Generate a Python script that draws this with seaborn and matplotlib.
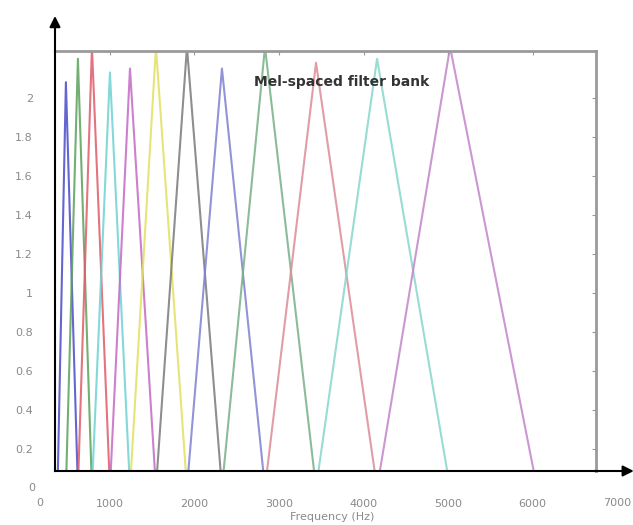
import numpy as np
import pandas as pd
import seaborn as sns
import matplotlib
matplotlib.use('Agg')
import matplotlib.pyplot as plt

# filter edge / centre frequencies (Hz)
edges = [380, 479, 621, 787, 1000, 1237, 1544, 1911, 2325, 2834, 3438, 4160, 5024, 6053]
# peak height of each triangular filter
peaks = [2.08, 2.20, 2.26, 2.13, 2.15, 2.26, 2.26, 2.15, 2.26, 2.18, 2.20, 2.26]
colors = ['#4a4ac8', '#5aa05a', '#e05a6a', '#6ed2d2', '#c46ac4', '#e2e060', '#7a7a7a',
          '#8080d0', '#78b088', '#dc8c98', '#86d6cc', '#c484cc']
xticks = [1000, 2000, 3000, 4000, 5000, 6000]
yticks = [0.2, 0.4, 0.6, 0.8, 1, 1.2, 1.4, 1.6, 1.8, 2]

rows = []
for i, p in enumerate(peaks):
    for f, g in zip(edges[i:i + 3], [0, p, 0]):
        rows.append({'filter': i, 'freq': f, 'gain': g})
df = pd.DataFrame(rows)

sns.set_style('white')
plt.rcParams['font.family'] = ['DejaVu Sans']

fig = plt.figure(figsize=(6.33, 5.25), dpi=100)
ax = fig.add_axes([55 / 633, 54 / 525, 541 / 633, 420 / 525])

sns.lineplot(data=df, x='freq', y='gain', hue='filter', palette=colors,
             estimator=None, sort=False, legend=False, linewidth=1.5, alpha=0.85, ax=ax)

ax.set_xlim(350, 6750)
ax.set_ylim(0.087, 2.24)
ax.set_xticks(xticks)
ax.set_xticklabels([str(t) for t in xticks])
ax.set_yticks(yticks)
ax.set_yticklabels(['0.2', '0.4', '0.6', '0.8', '1', '1.2', '1.4', '1.6', '1.8', '2'])
ax.tick_params(axis='both', direction='in', length=3, color='#999999',
               labelcolor='#8a8a8a', labelsize=8, top=True, right=True)
ax.tick_params(axis='x', pad=20)
ax.tick_params(axis='y', pad=16)
ax.set_xlabel('Frequency (Hz)', fontsize=8, color='#8a8a8a')
ax.xaxis.set_label_coords((332 - 55) / 541, -(512 - 471) / 420)
ax.set_ylabel('')

# extra labels sitting outside the limits
ax.text(172, -0.077, '0', ha='center', va='center', fontsize=8, color='#8a8a8a')
ax.text(77, 0.0, '0', ha='center', va='center', fontsize=8, color='#8a8a8a')
ax.text(7000, -0.077, '7000', ha='center', va='center', fontsize=8, color='#8a8a8a')

for s in ['top', 'right']:
    ax.spines[s].set_color('#9a9a9a')
    ax.spines[s].set_linewidth(2)
for s in ['left', 'bottom']:
    ax.spines[s].set_color('black')
    ax.spines[s].set_linewidth(1.5)

# arrow heads on the two main axes
ax.annotate('', xy=(0, 1.09), xytext=(0, 0.99), xycoords='axes fraction',
            arrowprops=dict(arrowstyle='-|>', color='black', lw=1.5, mutation_scale=16))
ax.annotate('', xy=(1.075, 0), xytext=(0.99, 0), xycoords='axes fraction',
            arrowprops=dict(arrowstyle='-|>', color='black', lw=1.5, mutation_scale=16))

ax.text(2700, 2.08, 'Mel-spaced filter bank', ha='left', va='center',
        fontsize=10, fontweight='bold', color='#333333')

fig.savefig('out.png', dpi=100)
